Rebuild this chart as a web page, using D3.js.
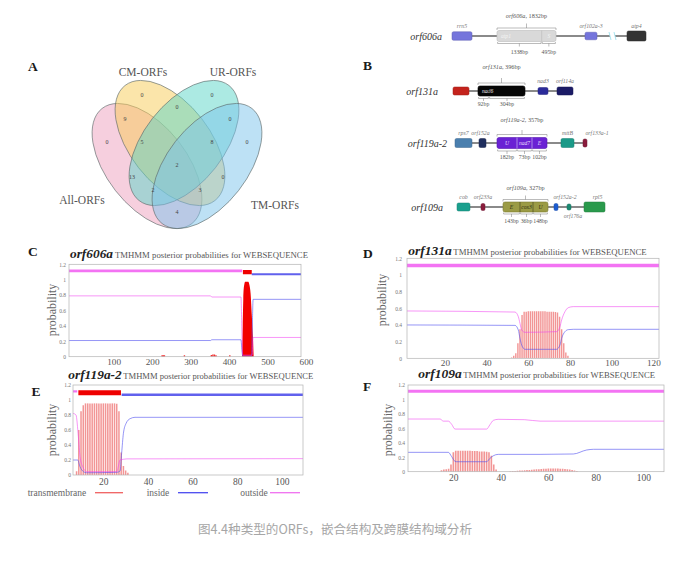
<!DOCTYPE html>
<html><head><meta charset="utf-8">
<script src="https://cdn.jsdelivr.net/npm/d3@7/dist/d3.min.js"></script>
<style>html,body{margin:0;padding:0;background:#fff}svg{display:block}</style>
</head><body>
<svg id="fig" width="687" height="561"></svg>
<script>
// ================= DATA =================
// Panel A – Venn
const vennSetNames = ["All-ORFs","CM-ORFs","UR-ORFs","TM-ORFs"];
const vennRegionKeys = ["CM","CM&UR","UR","All&CM","UR&TM","All","All&CM&UR","CM&UR&TM","TM","All&CM&UR&TM","All&UR","CM&TM","All&UR&TM","All&CM&TM","All&TM"];
const vennCounts = [0,0,0,9,0,0,5,8,0,2,13,0,2,3,4];

// Panel B – gene structures
const geneRowNames = ["orf606a","orf131a","orf119a-2","orf109a"];
const orfNames = ["orf606a","orf131a","orf119a-2","orf109a"];
const orfLengths = ["1832bp","396bp","357bp","327bp"];
const flank606 = [["rrn5",2,22],["orf102a-3",135,147],["atp4",177,196]];
const flank131 = [["",3,19],["nad3",88,98],["orf114a",107,123]];
const flank119 = [["rps7",5,22],["orf152a",29,36],["mttB",111,124],["orf133a-1",133,137]];
const flank109 = [["cob",7,20],["orf233a",31,35],["orf152a-2",104,108],["orf176a",117,121],["rpl5",134,155]];
const parts606 = [["atp1",47,91.7,"1338bp"],["S",91.7,106,"495bp"]];
const parts131 = [["nad6",28,39,"92bp"],["",39,75,"304bp"]];
const parts119 = [["U",47,67,"182bp"],["nad7",67,82,"73bp"],["E",82,97,"102bp"]];
const parts109 = [["E",53,70,"143bp"],["cox3",70,83,"36bp"],["U",83,98,"148bp"]];
const backbone606 = [[2,160],[165,196]];
const backbone131 = [[3,122]];
const backbone119 = [[5,137]];
const backbone109 = [[7,155]];

// Panels C–F – TMHMM posterior probabilities
const probTicks = [0,0.2,0.4,0.6,0.8,1,1.2];
const titleSuffix = "TMHMM posterior probabilities for WEBSEQUENCE";
const legendLabels = ["transmembrane","inside","outside"];

const xTicksC = [100,200,300,400,500,600];
const outsideC = [[-16,0.79],[352,0.79],[355,0.775],[431,0.775],[433.5,0.3],[435.5,0.02],[460,0.02],[462.5,0.25],[587,0.25]];
const insideC  = [[-16,0.21],[352,0.21],[355,0.22],[431,0.22],[433.5,0.08],[435.5,0.01],[458.5,0.01],[460.5,0.4],[462.5,0.745],[587,0.745]];
const tmC      = [[434,0],[435.5,0.4],[437,0.75],[439,0.92],[442,0.975],[450,0.975],[453,0.93],[456,0.82],[459,0.55],[462,0.25],[464,0]];
const tmCminor = [[226,0.012],[229,0.012],[232,0.01],[284,0.01],[354,0.015],[358,0.022],[362,0.02],[366,0.012],[402,0.01]];
const topoC    = [["outside",-16,434],["TM",436,459],["inside",459,587]];

const xTicksD = [20,40,60,80,100,120];
const outsideD = [[1.8,0.568],[53.6,0.555],[55.2,0.5],[56,0.42],[56.8,0.34],[58.4,0.312],[73.6,0.32],[75.2,0.38],[76,0.46],[77.6,0.56],[79.2,0.608],[81.6,0.62],[122.7,0.62]];
const insideD  = [[1.8,0.40],[53.6,0.395],[55.2,0.34],[56,0.24],[56.8,0.16],[58.4,0.108],[73.6,0.108],[75.2,0.16],[76,0.24],[77.6,0.32],[79.2,0.344],[81.6,0.348],[122.7,0.348]];
const tmD = [[52,0.01],[53,0.03],[54,0.06],[55,0.18],[56,0.35],[57,0.52],[58,0.56],[59,0.56],[60,0.565],[61,0.565],[62,0.565],[63,0.565],[64,0.565],[65,0.565],[66,0.565],[67,0.565],[68,0.565],[69,0.56],[70,0.56],[71,0.56],[72,0.56],[73,0.555],[74,0.55],[75,0.5],[76,0.35],[77,0.18],[78,0.07],[79,0.03]];
const topoD = [["outside",1.8,122.7]];

const xTicksE = [20,40,60,80,100];
const outsideE = [[6.4,0.822],[7.75,0.8],[8.8,0.511],[9.55,0.244],[10.75,0.111],[12.5,0.044],[26,0.044],[27.5,0.2],[29,0.21],[30.5,0.215],[109.5,0.218]];
const insideE  = [[6.4,0.2],[8.5,0.2],[9.55,0.11],[11.1,0.044],[12.5,0.03],[26,0.036],[27.5,0.053],[28.2,0.289],[29,0.556],[30.2,0.689],[32,0.751],[34.2,0.769],[109.5,0.769]];
const tmE = [[8,0.05],[9,0.6],[10,0.85],[11,0.93],[12,0.955],[13,0.955],[14,0.955],[15,0.955],[16,0.955],[17,0.955],[18,0.955],[19,0.955],[20,0.955],[21,0.955],[22,0.955],[23,0.955],[24,0.955],[25,0.955],[26,0.95],[27,0.85],[28,0.3],[29,0.12],[30,0.06],[31,0.03]];
const topoE = [["outside",6.4,8.3],["TM",8.8,27.9],["inside",28.2,109.5]];

const xTicksF = [20,40,60,80,100];
const outsideF = [[0.9,0.729],[14.4,0.729],[15.8,0.70],[17.9,0.70],[19.3,0.655],[20.7,0.59],[34,0.59],[35.4,0.65],[36.8,0.71],[38.9,0.725],[50,0.72],[56.5,0.70],[108.7,0.70]];
const insideF  = [[0.9,0.268],[17.9,0.268],[19.3,0.208],[20.7,0.143],[21.4,0.138],[34,0.138],[35.4,0.185],[36.8,0.22],[38.9,0.24],[56.5,0.24],[70.5,0.245],[76.1,0.30],[79,0.31],[108.7,0.31]];
const tmF = [[15,0.02],[16,0.03],[17,0.035],[18,0.04],[19,0.1],[20,0.27],[21,0.29],[22,0.29],[23,0.29],[24,0.29],[25,0.29],[26,0.29],[27,0.29],[28,0.285],[29,0.285],[30,0.285],[31,0.28],[32,0.28],[33,0.28],[34,0.275],[35,0.27],[36,0.22],[37,0.1],[38,0.03],
  [44,0.005],[45,0.008],[46,0.01],[47,0.012],[48,0.015],[49,0.018],[50,0.02],[51,0.022],[52,0.025],[53,0.028],[54,0.03],[55,0.033],[56,0.035],[57,0.038],[58,0.04],[59,0.042],[60,0.043],[61,0.044],[62,0.045],[63,0.044],[64,0.043],[65,0.042],[66,0.04],[67,0.038],[68,0.035],[69,0.03],[70,0.022],[71,0.015],[72,0.008]];
const topoF = [["outside",0.9,108.7]];

const captionText = "图4.4种类型的ORFs，嵌合结构及跨膜结构域分析";

// ================= DRAWING =================
const svg = d3.select("#fig");
const SERIF = '"Liberation Serif","DejaVu Serif",serif';
function txt(g, x, y, s, o = {}) {
  const t = g.append("text").attr("x", x).attr("y", y).text(s)
    .attr("font-family", o.family || SERIF).attr("font-size", o.size || 10)
    .attr("fill", o.fill || "#333").attr("text-anchor", o.anchor || "start");
  if (o.weight) t.attr("font-weight", o.weight);
  if (o.style) t.attr("font-style", o.style);
  if (o.len) t.attr("textLength", o.len).attr("lengthAdjust", "spacingAndGlyphs");
  return t;
}

// panel letters
[["A",28,71],["B",363,70],["C",28,256],["D",363,258],["E",31.5,396],["F",363,391]].forEach(([l,x,y]) =>
  txt(svg, x, y, l, {size: 13.5, weight: "bold", fill: "#1a1a1a"}));

// ---------- Panel A ----------
(function(){
  const g = svg.append("g");
  const ell = [
    {cx:147, cy:166, rot:52, fill:"#ee9fbd"},
    {cx:170, cy:143, rot:52, fill:"#f8cc55"},
    {cx:184, cy:143, rot:-52, fill:"#5ad6c8"},
    {cx:207, cy:166, rot:-52, fill:"#7cc3ec"}
  ];
  g.selectAll("ellipse").data(vennSetNames).join("ellipse")
    .attr("cx", (d,i)=>ell[i].cx).attr("cy", (d,i)=>ell[i].cy)
    .attr("rx", 73).attr("ry", 40)
    .attr("transform", (d,i)=>`rotate(${ell[i].rot},${ell[i].cx},${ell[i].cy})`)
    .attr("fill", (d,i)=>ell[i].fill).attr("fill-opacity", 0.5)
    .attr("stroke", "#5f6b6b").attr("stroke-opacity", 0.75).attr("stroke-width", 0.8);
  const labelPos = [[82,204],[143,76],[233,76],[275,209]];
  vennSetNames.forEach((n,i)=>txt(g, labelPos[i][0], labelPos[i][1], n, {size:11.5, fill:"#555", anchor:"middle"}));
  const regionPos = {"CM":[142,95],"CM&UR":[177,107],"UR":[212,95],"All&CM":[125,119],"UR&TM":[230,119],
    "All":[107,142],"All&CM&UR":[142,142],"CM&UR&TM":[212,142],"TM":[247,142],"All&CM&UR&TM":[177,165],
    "All&UR":[132,177],"CM&TM":[223,177],"All&UR&TM":[153,190],"All&CM&TM":[200,190],"All&TM":[177,212]};
  vennRegionKeys.forEach((k,i)=>txt(g, regionPos[k][0], regionPos[k][1]+2, String(vennCounts[i]), {size:6, fill:"#444", anchor:"middle"}));
})();

// ---------- Panel B ----------
(function(){
  const g = svg.append("g");
  const xg = d3.scaleLinear().domain([0,200]).range([450,650]);
  const rowY = [36,91,143,207];
  const rowLabelX = [442,438,447,443];
  const flanks = [flank606, flank131, flank119, flank109];
  const parts = [parts606, parts131, parts119, parts109];
  const backs = [backbone606, backbone131, backbone119, backbone109];
  const geneStyle = {
    "rrn5":{c:"#7575dc",h:8.5}, "orf102a-3":{c:"#7575dc",h:7.5}, "atp4":{c:"#343434",h:10},
    "":{c:"#c4231c",h:8}, "nad3":{c:"#2b2b9a",h:7}, "orf114a":{c:"#1b1b66",h:8},
    "rps7":{c:"#4a7fae",h:9}, "orf152a":{c:"#1f2e5e",h:9}, "mttB":{c:"#1a9a88",h:9}, "orf133a-1":{c:"#8a1c3c",h:8},
    "cob":{c:"#1aa08e",h:8}, "orf233a":{c:"#8a1c3c",h:7}, "orf152a-2":{c:"#1c5cd0",h:7}, "orf176a":{c:"#1a8a72",h:6}, "rpl5":{c:"#2a9a4c",h:10}
  };
  const labelDx = {"orf152a":-2,"orf133a-1":12,"orf152a-2":9,"orf176a":4,"rpl5":3};
  const orfStyle = [
    {fill:"#d9d9d9", stroke:"#bcbcbc", h:11, text:"#f4f4f4", div:"#bdbdbd"},
    {fill:"#060606", stroke:"#000", h:10, text:"#f0f0f0", div:"#060606"},
    {fill:"#6a22d4", stroke:"#5518b0", h:11, text:"#e6dcff", div:"#c9b8ef"},
    {fill:"#9b9b45", stroke:"#7c7c30", h:10, text:"#2c2c10", div:"#4a4a20"}
  ];
  const topBr = [[28,23.5,16],[83,78,67],[134.5,130,120],[199.5,195.5,188]];
  const botBr = [[43.5,46.5,53.5],[98.5,101,106],[151,154,159],[214,217,223]];

  geneRowNames.forEach((name,r)=>{
    const y = rowY[r];
    txt(g, rowLabelX[r], y+3.5, name, {size:10, style:"italic", fill:"#333", anchor:"end"});
    backs[r].forEach(([a,b])=>g.append("line").attr("x1",xg(a)).attr("x2",xg(b)).attr("y1",y).attr("y2",y)
      .attr("stroke","#8a8a8a").attr("stroke-width",2));
    if (r===0) {
      [160,165].forEach(b=>g.append("line").attr("x1",xg(b)-1).attr("x2",xg(b)+1).attr("y1",y-4).attr("y2",y+4)
        .attr("stroke","#a8e4f0").attr("stroke-width",1));
    }
    flanks[r].forEach(([n,s,e])=>{
      const st = geneStyle[n];
      g.append("rect").attr("x",xg(s)).attr("y",y-st.h/2).attr("width",xg(e)-xg(s)).attr("height",st.h)
        .attr("rx",1.5).attr("fill",st.c).attr("stroke",d3.color(st.c).darker(0.6)).attr("stroke-width",0.5);
      if (n) {
        const below = n==="orf176a";
        txt(g, (xg(s)+xg(e))/2 + (labelDx[n]||0), below ? y+11 : y-8.5, n, {size:5.8, style:"italic", fill:"#777", anchor:"middle"});
      }
    });
    const ps = parts[r], os = orfStyle[r];
    const s0 = ps[0][1], e0 = ps[ps.length-1][2];
    g.append("rect").attr("x",xg(s0)).attr("y",y-os.h/2).attr("width",xg(e0)-xg(s0)).attr("height",os.h)
      .attr("rx",2).attr("fill",os.fill).attr("stroke",os.stroke).attr("stroke-width",0.6);
    ps.forEach(([lab,s,e,bp],i)=>{
      if (i>0) g.append("line").attr("x1",xg(s)).attr("x2",xg(s)).attr("y1",y-os.h/2).attr("y2",y+os.h/2)
        .attr("stroke",os.div).attr("stroke-width",0.7);
      if (lab) {
        const startAnch = (r<2 && i===0);
        txt(g, startAnch ? xg(s)+4 : (xg(s)+xg(e))/2, y+2, lab, {size:5.6, style:"italic", fill:os.text, anchor:startAnch?"start":"middle"});
      }
      const [by, bt, bl] = botBr[r];
      const xa = xg(s)+0.6, xb = xg(e)-0.6, xm = (xg(s)+xg(e))/2;
      g.append("path").attr("d",`M${xa},${by-1.5}V${by}H${xb}V${by-1.5}M${xm},${by}V${bt}`)
        .attr("fill","none").attr("stroke","#777").attr("stroke-width",0.5);
      txt(g, xm, bl, bp, {size:5.8, fill:"#555", anchor:"middle"});
    });
    const [ty, tt, tl] = topBr[r];
    const xm = (xg(s0)+xg(e0))/2;
    g.append("path").attr("d",`M${xg(s0)},${ty+2}V${ty}H${xg(e0)}V${ty+2}M${xm},${ty}V${tt}`)
      .attr("fill","none").attr("stroke","#777").attr("stroke-width",0.5);
    const t = txt(g, xm, tl+2, "", {size:6.2, fill:"#555", anchor:"middle"});
    t.append("tspan").attr("font-style","italic").text(orfNames[r]);
    t.append("tspan").text(", " + orfLengths[r]);
  });
})();

// ---------- Panels C–F ----------
const topoLevel = {outside:1.115, TM:1.098, inside:1.07};
const topoColor = {outside:"#f050f0", TM:"#ee0000", inside:"#3a3ae8"};
function tmPanel(cfg){
  const b = cfg.box;
  const g = svg.append("g");
  const x = d3.scaleLinear().domain(cfg.xDomain).range([b.x0,b.x1]);
  const y = d3.scaleLinear().domain([0,1.2]).range([b.y1,b.y0]);
  const cid = "clip"+cfg.id;
  svg.append("defs").append("clipPath").attr("id",cid).append("rect")
    .attr("x",b.x0).attr("y",b.y0-3).attr("width",b.x1-b.x0).attr("height",b.y1-b.y0+3);
  const pg = g.append("g").attr("clip-path",`url(#${cid})`);

  if (cfg.tmArea) {
    pg.append("path").datum(cfg.tmArea)
      .attr("d", d3.area().x(d=>x(d[0])).y0(y(0)).y1(d=>y(d[1])).curve(d3.curveMonotoneX))
      .attr("fill","#f20000");
    pg.selectAll(".minor").data(cfg.tmMinor).join("line")
      .attr("x1",d=>x(d[0])).attr("x2",d=>x(d[0])).attr("y1",y(0)).attr("y2",d=>y(d[1])-0.6)
      .attr("stroke","#f03030").attr("stroke-width",1.4);
  }
  if (cfg.tmImp) {
    const w = Math.abs(x(1)-x(0))*0.68;
    pg.selectAll(".imp").data(cfg.tmImp).join("line")
      .attr("x1",d=>x(d[0])).attr("x2",d=>x(d[0])).attr("y1",y(0)).attr("y2",d=>y(d[1]))
      .attr("stroke","#ee7272").attr("stroke-opacity",0.75).attr("stroke-width",w);
  }
  const line = d3.line().x(d=>x(d[0])).y(d=>y(d[1])).curve(d3.curveMonotoneX);
  pg.append("path").datum(cfg.inside).attr("d",line).attr("fill","none")
    .attr("stroke","#5050f0").attr("stroke-opacity",0.6).attr("stroke-width",1);
  pg.append("path").datum(cfg.outside).attr("d",line).attr("fill","none")
    .attr("stroke","#f040f0").attr("stroke-opacity",0.55).attr("stroke-width",1);
  cfg.topo.forEach(([t,s,e])=>{
    pg.append("line").attr("x1",x(s)).attr("x2",x(e)).attr("y1",y(topoLevel[t])).attr("y2",y(topoLevel[t]))
      .attr("stroke",topoColor[t]).attr("stroke-opacity",t==="TM"?1:0.8).attr("stroke-width",cfg.topoW[t]);
  });
  g.append("rect").attr("x",b.x0).attr("y",b.y0).attr("width",b.x1-b.x0).attr("height",b.y1-b.y0)
    .attr("fill","none").attr("stroke","#b3b3b3").attr("stroke-width",0.7);
  const ya = g.append("g").attr("transform",`translate(${b.x0},0)`)
    .call(d3.axisLeft(y).tickValues(probTicks).tickSize(0).tickPadding(cfg.yPad).tickFormat(d=>d===0?"0":String(+d.toFixed(1))));
  ya.select(".domain").remove();
  ya.selectAll("text").attr("font-size",5.5).attr("fill","#777").attr("font-family",SERIF);
  const xa = g.append("g").attr("transform",`translate(0,${b.y1})`)
    .call(d3.axisBottom(x).tickValues(cfg.xTicks).tickSize(0).tickPadding(cfg.xPad));
  xa.select(".domain").remove();
  xa.selectAll("text").attr("font-size",cfg.xFont).attr("fill","#555").attr("font-family",SERIF);
  txt(g, 0, 0, "probability", {size:12, fill:"#666", anchor:"middle"})
    .attr("transform",`translate(${cfg.ylab[0]+4},${cfg.ylab[1]}) rotate(-90)`);
  txt(g, cfg.title[0], cfg.title[2], cfg.name, {size:12.5, weight:"bold", style:"italic", fill:"#222", len:cfg.title[1]-cfg.title[0]});
  txt(g, cfg.sub[0], cfg.title[2], titleSuffix, {size:9, fill:"#555", len:cfg.sub[1]-cfg.sub[0]});
}

tmPanel({id:"C", name:"orf606a", box:{x0:69,x1:301,y0:264.3,y1:356.7}, xDomain:[-16,587], xTicks:xTicksC,
  outside:outsideC, inside:insideC, tmArea:tmC, tmMinor:tmCminor, topo:topoC,
  topoW:{outside:2.7,TM:4.2,inside:2}, yPad:3, xPad:2, xFont:9.2, ylab:[52,310],
  title:[70,113,257.5], sub:[115,308]});
tmPanel({id:"D", name:"orf131a", box:{x0:407,x1:659,y0:258.3,y1:358.3}, xDomain:[1.8,122.7], xTicks:xTicksD,
  outside:outsideD, inside:insideD, tmImp:tmD, topo:topoD,
  topoW:{outside:3.5,TM:4,inside:2}, yPad:5, xPad:1, xFont:9.2, ylab:[381.7,300],
  title:[408.3,451.7,254.5], sub:[453.3,646.7]});
tmPanel({id:"E", name:"orf119a-2", box:{x0:73,x1:303,y0:385,y1:475}, xDomain:[6.4,109.5], xTicks:xTicksE,
  outside:outsideE, inside:insideE, tmImp:tmE, topo:topoE,
  topoW:{outside:2.2,TM:5,inside:2.7}, yPad:2, xPad:3, xFont:9.5, ylab:[51.7,430],
  title:[68.3,121.7,379], sub:[123.3,313.3]});
tmPanel({id:"F", name:"orf109a", box:{x0:408,x1:664,y0:385,y1:471.7}, xDomain:[0.9,108.7], xTicks:xTicksF,
  outside:outsideF, inside:insideF, tmImp:tmF, topo:topoF,
  topoW:{outside:3,TM:4,inside:2}, yPad:3, xPad:3, xFont:9.5, ylab:[388.3,430],
  title:[418.3,461.7,378], sub:[463.3,655]});

// legend under E
(function(){
  const g = svg.append("g");
  const lc = [57,158,254], ls = [[95,123],[178,208],[270,300]];
  const cols = ["#f06060","#4a4af0","#f070f0"];
  legendLabels.forEach((l,i)=>{
    txt(g, lc[i], 495.5, l, {size:9.5, fill:"#666", anchor:"middle"});
    g.append("line").attr("x1",ls[i][0]).attr("x2",ls[i][1]).attr("y1",492.7).attr("y2",492.7)
      .attr("stroke",cols[i]).attr("stroke-width",1.3);
  });
})();

// caption
txt(svg, 198, 533.5, captionText, {size:12.5, fill:"#a6a6a6", family:'"Noto Sans CJK SC","Noto Sans",sans-serif', len:274});
</script>
</body></html>
